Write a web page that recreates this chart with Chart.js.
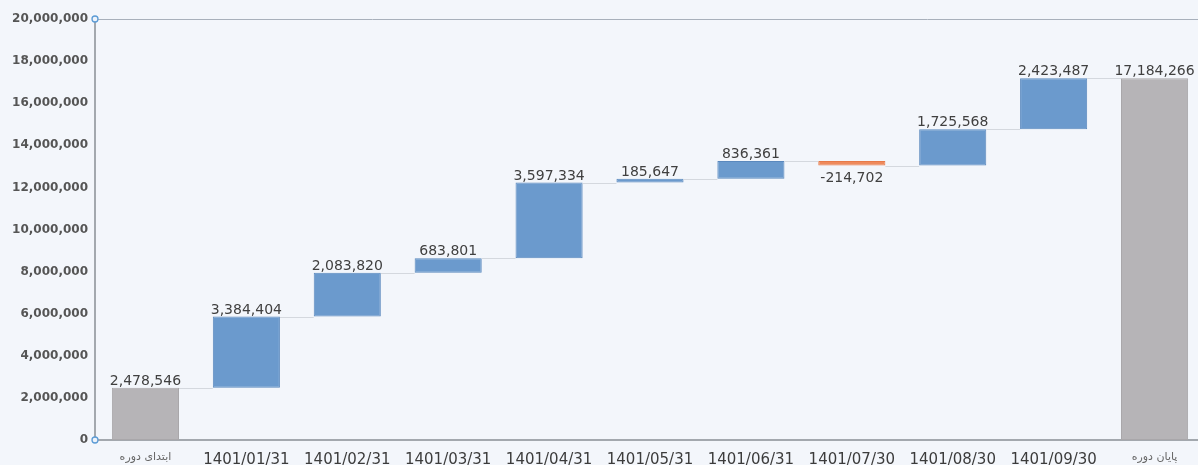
<!DOCTYPE html>
<html>
<head>
<meta charset="utf-8">
<script src="https://cdn.jsdelivr.net/npm/chart.js@4.4.1/dist/chart.umd.min.js"></script>
<style>
  html, body { margin: 0; padding: 0; background: #f3f6fb; overflow: hidden; }
  #wrap { width: 1205px; height: 465px; }
</style>
</head>
<body>
<div id="wrap"><canvas id="waterfall"></canvas></div>
<script>
// categories and values
const categories = ["ابتدای دوره", "1401/01/31", "1401/02/31", "1401/03/31", "1401/04/31", "1401/05/31",
  "1401/06/31", "1401/07/30", "1401/08/30", "1401/09/30", "پایان دوره"];
const startValue = 2478546;
const changes = [3384404, 2083820, 683801, 3597334, 185647, 836361, -214702, 1725568, 2423487];
const endValue = 17184266;
const yTicks = [0, 2000000, 4000000, 6000000, 8000000, 10000000, 12000000, 14000000, 16000000, 18000000, 20000000];

// build floating bars [low, high]
let ranges = [[0, startValue]];
let labels = [startValue];
let running = startValue;
changes.forEach(c => {
  ranges.push([running, running + c]);
  labels.push(c);
  running += c;
});
ranges.push([0, endValue]);
labels.push(endValue);

const last = labels.length - 1;
const colors = labels.map((v, i) => {
  if (i === 0 || i === last) return '#b6b4b7';
  return v < 0 ? '#ef8a5c' : '#6b9acd';
});
const borders = labels.map((v, i) => {
  if (i === 0 || i === last) return '#a9a7aa';
  return v < 0 ? '#e77a48' : '#5a88bd';
});

const fmt = n => n.toLocaleString('en-US');
const FONT = '"DejaVu Sans", Verdana, sans-serif';

/* connectors, value labels and axis markers */
const waterfallExtras = {
  id: 'waterfallExtras',
  afterDatasetsDraw(chart) {
    const ctx = chart.ctx;
    const meta = chart.getDatasetMeta(0);
    const y = chart.scales.y;
    const area = chart.chartArea;
    ctx.save();

    // top frame line
    ctx.strokeStyle = '#a8b0bb';
    ctx.lineWidth = 1;
    ctx.beginPath();
    ctx.moveTo(area.left, area.top + 0.5);
    ctx.lineTo(chart.width, area.top + 0.5);
    ctx.stroke();

    // connectors
    ctx.strokeStyle = '#d4d8de';
    for (let i = 0; i < meta.data.length - 1; i++) {
      const a = meta.data[i], b = meta.data[i + 1];
      const py = Math.round(y.getPixelForValue(ranges[i][1])) + 0.5;
      ctx.beginPath();
      ctx.moveTo(a.x + a.width / 2, py);
      ctx.lineTo(b.x - b.width / 2, py);
      ctx.stroke();
    }

    // value labels
    ctx.fillStyle = '#404040';
    ctx.font = '14px ' + FONT;
    ctx.textAlign = 'center';
    meta.data.forEach((bar, i) => {
      const v = labels[i];
      const r = ranges[i];
      if (v < 0) {
        ctx.textBaseline = 'top';
        ctx.fillText(fmt(v), bar.x, y.getPixelForValue(Math.min(r[0], r[1])) + 6);
      } else {
        ctx.textBaseline = 'alphabetic';
        ctx.fillText(fmt(v), bar.x, y.getPixelForValue(Math.max(r[0], r[1])) - 3);
      }
    });

    // small circles at the ends of the y axis
    ctx.strokeStyle = '#5b9bd5';
    ctx.fillStyle = '#eef3fa';
    ctx.lineWidth = 1.3;
    [area.top, area.bottom].forEach(py => {
      ctx.beginPath();
      ctx.arc(area.left, py, 3, 0, Math.PI * 2);
      ctx.fill();
      ctx.stroke();
    });
    ctx.restore();
  }
};

const bgPlugin = {
  id: 'bg',
  beforeDraw(chart) {
    const ctx = chart.ctx;
    ctx.save();
    ctx.fillStyle = '#f3f6fb';
    ctx.fillRect(0, 0, chart.width, chart.height);
    ctx.restore();
  }
};

new Chart(document.getElementById('waterfall'), {
  type: 'bar',
  data: {
    labels: categories,
    datasets: [{
      data: ranges,
      backgroundColor: colors,
      borderColor: borders,
      borderWidth: 1,
      borderSkipped: false,
      categoryPercentage: 1,
      barPercentage: 0.665
    }]
  },
  options: {
    responsive: true,
    maintainAspectRatio: false,
    animation: false,
    layout: { padding: { top: 19, right: 0, left: 0, bottom: 0 } },
    plugins: {
      legend: { display: false },
      tooltip: { enabled: false }
    },
    scales: {
      x: {
        grid: { display: false, drawTicks: false },
        border: { color: '#a3a8ae', width: 2 },
        ticks: {
          color: ctx => (ctx.index === 0 || ctx.index === last) ? '#666666' : '#3c3c3c',
          font: ctx => ({ family: FONT, size: (ctx.index === 0 || ctx.index === last) ? 11 : 15 }),
          maxRotation: 0,
          autoSkip: false,
          padding: 11
        },
        afterFit(scale) { scale.height = 25; }
      },
      y: {
        min: 0,
        max: 20000000,
        afterBuildTicks(scale) { scale.ticks = yTicks.map(v => ({ value: v })); },
        grid: { display: false, drawTicks: false },
        border: { color: '#a3a8ae', width: 2 },
        ticks: {
          color: '#555555',
          font: { family: FONT, size: 12, weight: 'bold' },
          padding: 7,
          callback: v => fmt(v)
        },
        afterFit(scale) { scale.width = 95; }
      }
    }
  },
  plugins: [bgPlugin, waterfallExtras]
});
</script>
</body>
</html>
